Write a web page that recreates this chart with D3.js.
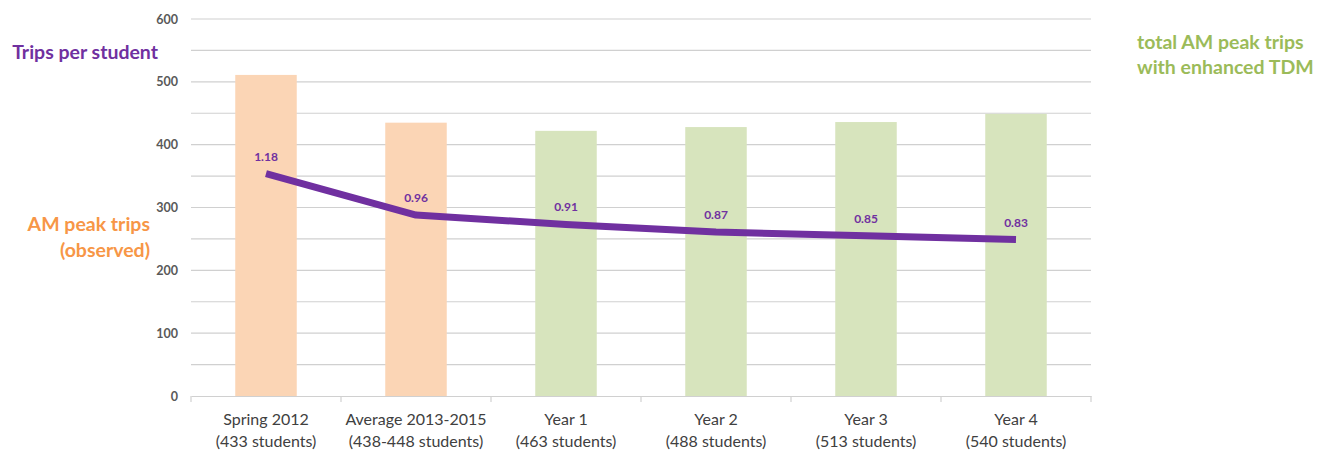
<!DOCTYPE html>
<html><head><meta charset="utf-8">
<script src="https://cdn.jsdelivr.net/npm/d3@7"></script>
<style>body{margin:0;background:#fff;} text{font-family:Lato,"Open Sans",sans-serif;}</style>
</head><body>
<svg id="c" width="1332" height="454"></svg>
<script>
const categories = ["Spring 2012","Average 2013-2015","Year 1","Year 2","Year 3","Year 4"];
const subLabels = ["(433 students)","(438-448 students)","(463 students)","(488 students)","(513 students)","(540 students)"];
const amPeakTrips = [511, 435, 422, 428, 436, 449];
const tripsPerStudent = [1.18, 0.96, 0.91, 0.87, 0.85, 0.83];
const barGroup = ["observed","observed","tdm","tdm","tdm","tdm"];
const yTicks = [0,100,200,300,400,500,600];

const svg = d3.select("#c");
const pLeft = 191, pRight = 1091, pTop = 19, pBottom = 396;
const x = d3.scaleBand().domain(categories).range([pLeft,pRight]).paddingInner(0.59).paddingOuter(0.295);
const xb = d3.scaleBand().domain(categories).range([pLeft,pRight]);
const y = d3.scaleLinear().domain([0,600]).range([pBottom,pTop]);
const y2 = d3.scaleLinear().domain([0,2]).range([pBottom,pTop]);
const colors = {observed:"#FBD5B5", tdm:"#D7E4BD"};

// gridlines every 50
const grid = d3.range(50,601,50);
svg.append("g").selectAll("line").data(grid).join("line")
  .attr("x1",pLeft).attr("x2",pRight).attr("y1",d=>y(d)).attr("y2",d=>y(d))
  .attr("stroke","#D0D0D0").attr("stroke-width",1.2);

// bars
svg.append("g").selectAll("rect").data(categories).join("rect")
  .attr("x",d=>x(d)).attr("width",x.bandwidth())
  .attr("y",(d,i)=>y(amPeakTrips[i])).attr("height",(d,i)=>pBottom-y(amPeakTrips[i]))
  .attr("fill",(d,i)=>colors[barGroup[i]]);

// y axis labels
const ya = svg.append("g").attr("transform",`translate(${pLeft},0)`)
  .call(d3.axisLeft(y).tickValues(yTicks).tickSize(0).tickPadding(13));
ya.select(".domain").remove();
ya.selectAll("text").attr("font-size",12.5).attr("font-weight","bold").attr("fill","#595959")
  .style("font-family","Lato,sans-serif");

// x axis
const xa = svg.append("g").attr("transform",`translate(0,${pBottom})`)
  .call(d3.axisBottom(xb).tickSize(0).tickFormat(""));
xa.select(".domain").attr("stroke","#D0D0D0").attr("stroke-width",1.2);
xa.selectAll(".tick").remove();
const bounds = d3.range(0,categories.length+1).map(i=>pLeft+i*xb.step());
svg.append("g").selectAll("line").data(bounds).join("line")
  .attr("x1",d=>d).attr("x2",d=>d).attr("y1",pBottom).attr("y2",pBottom+6)
  .attr("stroke","#D0D0D0").attr("stroke-width",1.2);
const lbl = svg.append("g").selectAll("text").data(categories).join("text")
  .attr("x",d=>xb(d)+xb.bandwidth()/2).attr("text-anchor","middle")
  .attr("font-size",16).attr("fill","#404040");
lbl.append("tspan").attr("x",d=>xb(d)+xb.bandwidth()/2).attr("y",425).text(d=>d);
lbl.append("tspan").attr("x",d=>xb(d)+xb.bandwidth()/2).attr("y",447).text((d,i)=>subLabels[i]);

// line
const cx = d=>x(d)+x.bandwidth()/2;
const line = d3.line().x((d,i)=>cx(categories[i])).y(d=>y2(d));
svg.append("path").datum(tripsPerStudent).attr("d",line)
  .attr("fill","none").attr("stroke","#7030A0").attr("stroke-width",7).attr("stroke-linejoin","round");
svg.append("g").selectAll("text").data(tripsPerStudent).join("text")
  .attr("x",(d,i)=>cx(categories[i])).attr("y",d=>y2(d)-13)
  .attr("text-anchor","middle").attr("font-size",12).attr("font-weight","bold")
  .attr("fill","#7030A0").text(d=>d.toFixed(2));

// titles
svg.append("text").attr("x",158).attr("y",59).attr("text-anchor","end")
  .attr("font-size",19.5).attr("font-weight","bold").attr("fill","#7030A0").text("Trips per student");
svg.append("text").attr("x",150).attr("y",231).attr("text-anchor","end")
  .attr("font-size",19.5).attr("font-weight","bold").attr("fill","#F79646").text("AM peak trips");
svg.append("text").attr("x",150).attr("y",257).attr("text-anchor","end")
  .attr("font-size",19.5).attr("font-weight","bold").attr("fill","#F79646").text("(observed)");
svg.append("text").attr("x",1137).attr("y",49)
  .attr("font-size",19.5).attr("font-weight","bold").attr("fill","#9BBB59").text("total AM peak trips");
svg.append("text").attr("x",1137).attr("y",74)
  .attr("font-size",19.5).attr("font-weight","bold").attr("fill","#9BBB59").text("with enhanced TDM");
</script>
</body></html>
